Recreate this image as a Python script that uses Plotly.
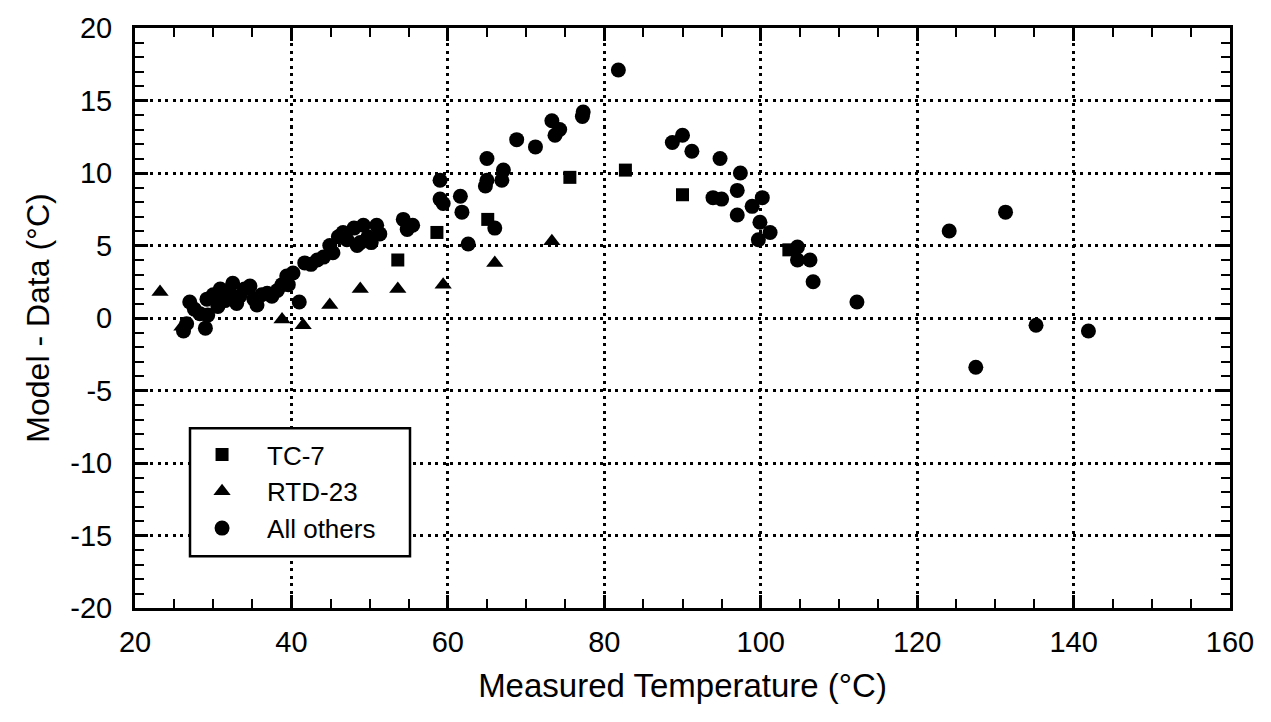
import plotly.graph_objects as go

# Model minus measured temperature residuals, by sensor group
tc7_temp = [53.6, 58.6, 65.1, 75.6, 82.7, 90.0, 103.6]
tc7_resid = [4.0, 5.9, 6.8, 9.7, 10.2, 8.5, 4.7]

rtd23_temp = [23.2, 26.0, 38.8, 41.5, 44.9, 48.8, 53.6, 59.4, 66.0, 73.3]
rtd23_resid = [1.8, -0.6, -0.1, -0.5, 0.9, 2.0, 2.0, 2.3, 3.8, 5.3]

other_temp = [
    26.2, 26.6, 27.0, 27.6, 28.3, 29.0, 29.3, 29.2, 30.0, 30.6,
    30.9, 31.5, 32.0, 32.5, 33.0, 33.4, 34.0, 34.7, 35.2, 35.6,
    36.2, 36.9, 37.5, 38.2, 38.8, 39.4, 39.6, 40.2, 41.0, 41.7,
    42.5, 43.3, 44.1, 44.9, 45.3, 46.0, 46.6, 47.1, 48.0, 48.4,
    48.8, 49.2, 49.8, 50.2, 50.9, 51.3, 54.3, 54.8, 55.5, 59.0,
    59.0, 59.4, 61.6, 61.8, 62.6, 64.8, 65.0, 65.0, 66.0, 66.9,
    67.1, 68.8, 71.2, 73.3, 73.7, 74.3, 77.2, 77.3, 81.8, 88.7,
    90.0, 91.2, 94.8, 97.4, 97.0, 93.9, 95.0, 97.0, 98.9, 100.2,
    99.9, 101.2, 99.7, 104.7, 104.7, 106.3, 106.7, 112.3, 124.1, 127.5,
    131.3, 135.2, 141.9,
]
other_resid = [
    -0.9, -0.4, 1.1, 0.6, 0.3, -0.7, 0.2, 1.3, 1.6, 0.8,
    2.0, 1.2, 1.8, 2.4, 1.0, 1.5, 2.0, 2.2, 1.3, 0.9,
    1.6, 1.7, 1.5, 1.9, 2.3, 2.9, 2.3, 3.1, 1.1, 3.8,
    3.7, 4.0, 4.2, 5.0, 4.5, 5.6, 5.9, 5.4, 6.2, 5.0,
    5.2, 6.4, 5.6, 5.2, 6.4, 5.8, 6.8, 6.1, 6.4, 9.5,
    8.2, 7.9, 8.4, 7.3, 5.1, 9.1, 9.5, 11.0, 6.2, 9.5,
    10.2, 12.3, 11.8, 13.6, 12.6, 13.0, 13.9, 14.2, 17.1, 12.1,
    12.6, 11.5, 11.0, 10.0, 8.8, 8.3, 8.2, 7.1, 7.7, 8.3,
    6.6, 5.9, 5.4, 4.9, 4.0, 4.0, 2.5, 1.1, 6.0, -3.4,
    7.3, -0.5, -0.9,
]

x_ticks = [20, 40, 60, 80, 100, 120, 140, 160]
y_ticks = [-20, -15, -10, -5, 0, 5, 10, 15, 20]

FONT = "Liberation Sans, Arial, Helvetica, sans-serif"
INK = "black"

fig = go.Figure()

fig.add_trace(go.Scatter(
    x=tc7_temp, y=tc7_resid, mode="markers", name="TC-7",
    legendgroup="a",
    marker=dict(symbol="square", size=13, color=INK, line=dict(width=0)),
))
fig.add_trace(go.Scatter(
    x=rtd23_temp, y=rtd23_resid, mode="markers", name="RTD-23",
    legendgroup="b",
    marker=dict(symbol="triangle-up", size=15, color=INK, line=dict(width=0)),
))
fig.add_trace(go.Scatter(
    x=other_temp, y=other_resid, mode="markers", name="All others",
    legendgroup="c",
    marker=dict(symbol="circle", size=15, color=INK, line=dict(width=0)),
))

axis_common = dict(
    showline=True, linecolor=INK, linewidth=3, mirror="ticks",
    ticks="inside", ticklen=13, tickwidth=2.5, tickcolor=INK,
    showgrid=True, gridcolor=INK, gridwidth=3, griddash="3px,4.5px",
    zeroline=False,
    tickfont=dict(family=FONT, size=29, color=INK),
)

fig.update_xaxes(
    **axis_common,
    range=[20, 160], tickvals=x_ticks, ticktext=[str(v) for v in x_ticks],
    ticklabelstandoff=6,
    minor=dict(dtick=5, ticks="inside", ticklen=9, tickwidth=2, tickcolor=INK, showgrid=False),
    title=dict(text="Measured Temperature (°C)", font=dict(family=FONT, size=33, color=INK), standoff=18),
)
fig.update_yaxes(
    **axis_common,
    range=[-20, 20], tickvals=y_ticks, ticktext=[str(v) for v in y_ticks],
    ticklabelstandoff=14,
    minor=dict(dtick=1, ticks="inside", ticklen=9, tickwidth=2, tickcolor=INK, showgrid=False),
    title=dict(text="Model - Data (°C)", font=dict(family=FONT, size=32, color=INK), standoff=12),
)

# framed box behind the legend entries
fig.add_shape(
    type="rect", xref="paper", yref="paper",
    x0=(190 - 135) / 1095, x1=(410 - 135) / 1095,
    y0=(608 - 556) / 584, y1=(608 - 427) / 584,
    fillcolor="white", line=dict(color=INK, width=2.5), layer="above",
)

fig.update_layout(
    width=1271, height=722,
    margin=dict(l=135, r=41, t=24, b=114),
    paper_bgcolor="white", plot_bgcolor="white",
    showlegend=True,
    legend=dict(
        x=0.0384, y=0.305, xanchor="left", yanchor="top",
        bgcolor="rgba(0,0,0,0)", borderwidth=0,
        font=dict(family=FONT, size=26, color=INK),
        itemwidth=80, tracegroupgap=0,
    ),
)

fig.write_html("out.html")
